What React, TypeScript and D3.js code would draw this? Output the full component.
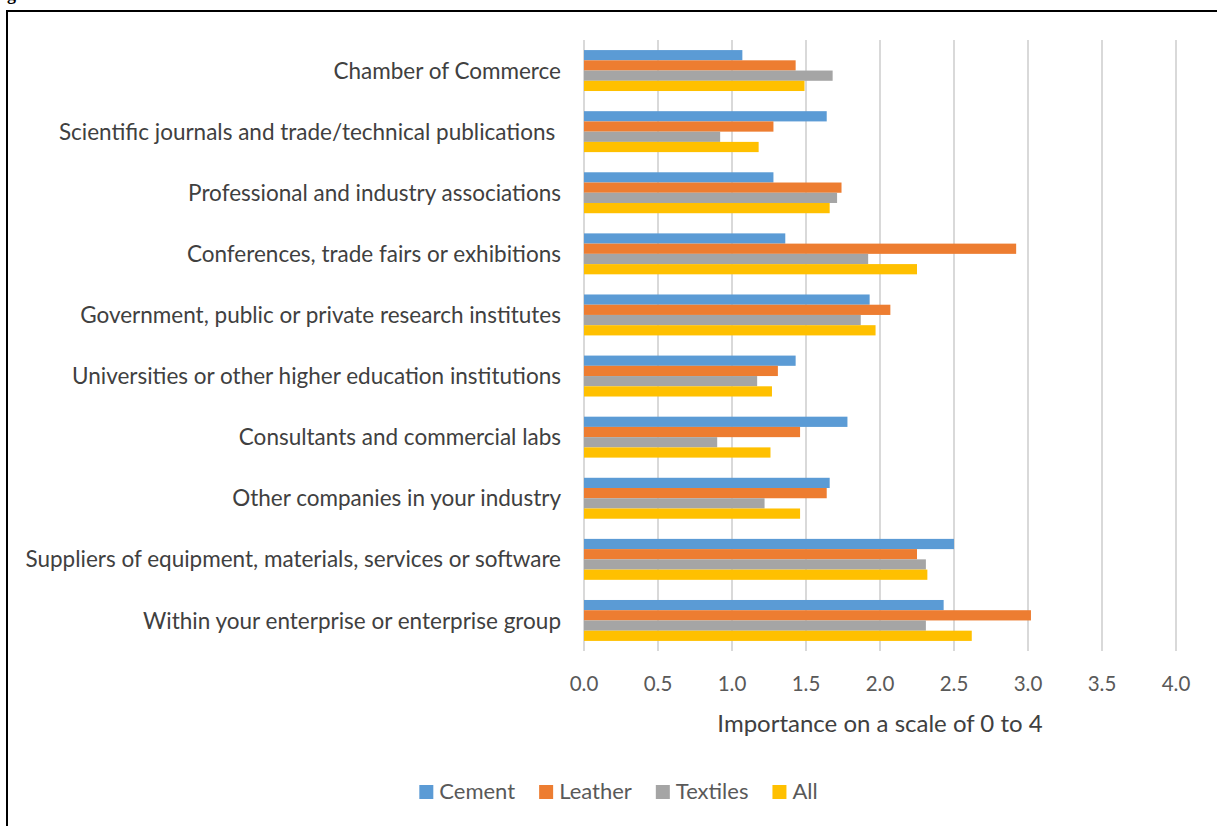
import React, { useEffect, useRef } from 'react';
import * as d3 from 'd3';

const categories = [
  'Chamber of Commerce',
  'Scientific journals and trade/technical publications ',
  'Professional and industry associations',
  'Conferences, trade fairs or exhibitions',
  'Government, public or private research institutes',
  'Universities or other higher education institutions',
  'Consultants and commercial labs',
  'Other companies in your industry',
  'Suppliers of equipment, materials, services or software',
  'Within your enterprise or enterprise group',
];

const seriesNames = ['Cement', 'Leather', 'Textiles', 'All'];

const cement = [1.07, 1.64, 1.28, 1.36, 1.93, 1.43, 1.78, 1.66, 2.5, 2.43];
const leather = [1.43, 1.28, 1.74, 2.92, 2.07, 1.31, 1.46, 1.64, 2.25, 3.02];
const textiles = [1.68, 0.92, 1.71, 1.92, 1.87, 1.17, 0.9, 1.22, 2.31, 2.31];
const all = [1.49, 1.18, 1.66, 2.25, 1.97, 1.27, 1.26, 1.46, 2.32, 2.62];

const xTicks = [0, 0.5, 1, 1.5, 2, 2.5, 3, 3.5, 4];

const colors = ['#5B9BD5', '#ED7D31', '#A5A5A5', '#FFC000'];

const W = 1217;
const H = 826;
const FONT = 'Lato, "Open Sans", sans-serif';

export default function App() {
  const svgRef = useRef<SVGSVGElement>(null);

  useEffect(() => {
    if (!svgRef.current) return;
    const svg = d3.select(svgRef.current);
    svg.selectAll('*').remove();

    const values = [cement, leather, textiles, all];

    const x = d3.scaleLinear().domain([0, 4]).range([584, 1176]);
    const y = d3.scaleBand<string>()
      .domain(categories)
      .range([40, 651])
      .paddingInner(0.33)
      .paddingOuter(0.165);
    const ySub = d3.scaleBand<string>()
      .domain(seriesNames)
      .range([0, y.bandwidth()]);

    // caption above the frame, cropped by the page edge as in the source
    svg.append('text')
      .attr('x', -9)
      .attr('y', 0)
      .attr('font-family', '"Liberation Serif", "Times New Roman", serif')
      .attr('font-weight', 'bold')
      .attr('font-size', 18)
      .text('Figure');

    // frame (only left and top edges are visible)
    svg.append('path')
      .attr('d', `M7,${H} L7,11 L${W},11`)
      .attr('fill', 'none')
      .attr('stroke', '#000')
      .attr('stroke-width', 2);

    // gridlines
    svg.append('g')
      .selectAll('line')
      .data(xTicks)
      .join('line')
      .attr('x1', d => x(d))
      .attr('x2', d => x(d))
      .attr('y1', 40)
      .attr('y2', 651)
      .attr('stroke', '#D9D9D9')
      .attr('stroke-width', 2);

    // bars
    const groups = svg.append('g')
      .selectAll('g')
      .data(categories)
      .join('g')
      .attr('transform', d => `translate(0,${y(d)})`);

    groups.selectAll('rect')
      .data((_, i) => seriesNames.map((s, j) => ({ s, j, v: values[j][i] })))
      .join('rect')
      .attr('x', x(0))
      .attr('y', d => ySub(d.s)!)
      .attr('width', d => x(d.v) - x(0))
      .attr('height', ySub.bandwidth())
      .attr('fill', d => colors[d.j]);

    // category labels
    svg.append('g')
      .selectAll('text')
      .data(categories)
      .join('text')
      .attr('x', 561)
      .attr('y', d => y(d)! + y.bandwidth() / 2)
      .attr('dy', '0.36em')
      .attr('text-anchor', 'end')
      .attr('font-family', FONT)
      .attr('font-size', 22.5)
      .attr('fill', '#404040')
      .style('white-space', 'pre')
      .text(d => d);

    // x tick labels
    svg.append('g')
      .selectAll('text')
      .data(xTicks)
      .join('text')
      .attr('x', d => x(d))
      .attr('y', 691)
      .attr('text-anchor', 'middle')
      .attr('font-family', FONT)
      .attr('font-size', 20.5)
      .attr('fill', '#595959')
      .text(d => d3.format('.1f')(d));

    // axis title
    svg.append('text')
      .attr('x', (x(0) + x(4)) / 2)
      .attr('y', 732)
      .attr('text-anchor', 'middle')
      .attr('font-family', FONT)
      .attr('font-size', 24)
      .attr('fill', '#404040')
      .text('Importance on a scale of 0 to 4');

    // legend
    const legend = svg.append('g');
    const items = legend.selectAll('g')
      .data(seriesNames)
      .join('g');
    items.append('rect')
      .attr('width', 14)
      .attr('height', 14)
      .attr('y', 785)
      .attr('fill', (_, i) => colors[i]);
    const labels = items.append('text')
      .attr('x', 20)
      .attr('y', 799)
      .attr('font-family', FONT)
      .attr('font-size', 22)
      .attr('fill', '#595959')
      .text(d => d);

    const widths: number[] = [];
    labels.each(function () {
      widths.push((this as SVGTextElement).getComputedTextLength());
    });
    const gap = 24;
    const itemW = widths.map(w => 20 + w);
    const total = d3.sum(itemW) + gap * (itemW.length - 1);
    let cx = 618.5 - total / 2;
    items.attr('transform', (_, i) => {
      const t = `translate(${cx},0)`;
      cx += itemW[i] + gap;
      return t;
    });
  }, []);

  return (
    <svg
      ref={svgRef}
      width={W}
      height={H}
      style={{ position: 'absolute', left: 0, top: 0, background: '#fff' }}
    />
  );
}
